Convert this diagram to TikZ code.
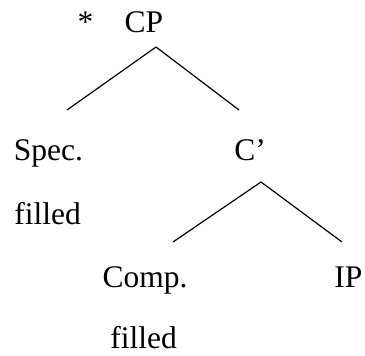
\documentclass[tikz,border=0pt]{standalone}
\usepackage{fontspec}
\setmainfont{Liberation Serif}
\usepackage{tikz}
\usetikzlibrary{positioning}
\tikzset{
    x=1pt,
    y=1pt,
    word/.style = {
        shape=rectangle,
        anchor=base,
        inner sep=0pt,
        font=\fontsize{31.5}{38}\selectfont
    },
    branch/.style = {
        draw,
        line width=1.2pt
    },
}

\begin{document}
\begin{tikzpicture}
            \useasboundingbox (0,0) rectangle (365,356);

            \node[word] (star) at (85.5,323) {*};
            \node[word] (cp) at (144,323) {CP};
            \node[word] (spec) at (48.5,195) {Spec.};
            \node[word] (specfill) at (47.5,131) {filled};
            \node[word] (cbar) at (250,195) {C’};
            \node[word] (comp) at (145,68) {Comp.};
            \node[word] (compfill) at (143.5,7) {filled};
            \node[word] (ip) at (348.5,68) {IP};

            \coordinate (cpfoot) at (156,309);
            \coordinate (spectop) at (67,246);
            \coordinate (cbartop) at (239,246);
            \coordinate (cbarfoot) at (261,174);
            \coordinate (comptop) at (173,114);
            \coordinate (iptop) at (342,114);

            \path[branch] (spectop) -- (cpfoot) -- (cbartop);
            \path[branch] (comptop) -- (cbarfoot) -- (iptop);
        \end{tikzpicture}
\end{document}
